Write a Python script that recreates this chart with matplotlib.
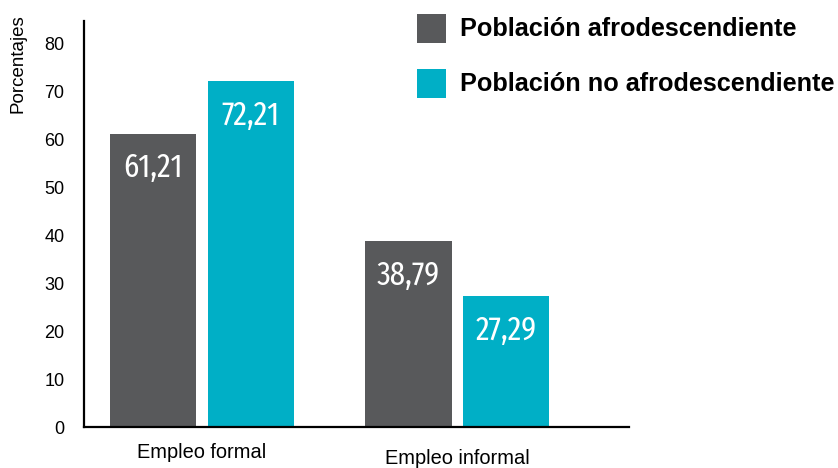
import numpy as np
import matplotlib.pyplot as plt
from matplotlib import font_manager
from matplotlib.patches import Rectangle

categories = ['Empleo formal', 'Empleo informal']
series = ['Población afrodescendiente', 'Población no afrodescendiente']
afro = [61.21, 38.79]
no_afro = [72.21, 27.29]
colors = ['#58595B', '#00AFC6']
yticks = [0, 10, 20, 30, 40, 50, 60, 70, 80]

plt.rcParams['font.family'] = ['Liberation Sans', 'DejaVu Sans']

# narrowest regular face available for the numbers inside the bars
rank = {'ultra-condensed': 0, 'extra-condensed': 1, 'condensed': 2, 'semi-condensed': 3}
best = None
for f in font_manager.fontManager.ttflist:
    if f.style != 'normal' or f.weight not in (400, 'normal', 'regular'):
        continue
    st = f.stretch if isinstance(f.stretch, str) else None
    name = f.name + ' ' + f.fname
    r = rank.get(st, 9)
    if 'ExtraCondensed' in name:
        r = min(r, 1)
    elif 'Narrow' in name or 'Condensed' in name:
        r = min(r, 2)
    if r < 9 and (best is None or r < best[0]):
        best = (r, f.fname)
if best:
    num_font = font_manager.FontProperties(fname=best[1], size=24)
else:
    num_font = font_manager.FontProperties(family='Liberation Sans', size=21)

fig = plt.figure(figsize=(8.38, 4.68), dpi=100)
ax = fig.add_axes([0.1002, 0.0876, 0.6504, 0.8675])

x = np.arange(len(categories))
off = 0.191
w = 0.337
groups = [afro, no_afro]
for i, vals in enumerate(groups):
    b = ax.bar(x + (i * 2 - 1) * off, vals, width=w, color=colors[i], label=series[i])
    for rect, v in zip(b, vals):
        ax.annotate(f'{v:.2f}'.replace('.', ','),
                    (rect.get_x() + rect.get_width() / 2, v),
                    xytext=(0, -13), textcoords='offset points',
                    ha='center', va='top', color='white', fontproperties=num_font)

ax.set_xlim(-0.461, 1.672)
ax.set_ylim(0, 84.8)
ax.set_yticks(yticks)
ax.tick_params(axis='y', length=0, pad=14, labelsize=13)
ax.set_xticks([])
trans = ax.get_xaxis_transform()
# the second category label sits a little lower than the first
for xi, cat, dy in zip(x, categories, [-0.0616, -0.0770]):
    ax.text(xi, dy, cat, transform=trans, ha='center', va='center', fontsize=14.4)

for s in ['top', 'right']:
    ax.spines[s].set_visible(False)
ax.spines['left'].set_linewidth(1.6)
ax.spines['bottom'].set_linewidth(1.6)

fig.text(0.022, 0.863, 'Porcentajes', rotation=90, ha='center', va='center', fontsize=13.5)

# legend drawn by hand in figure pixels
H = 468.0
W = 838.0
for i, (lab, top, base) in enumerate(zip(series, [14, 69], [36, 91])):
    fig.add_artist(Rectangle((417 / W, 1 - (top + 29) / H), 29 / W, 29 / H,
                             transform=fig.transFigure, color=colors[i], lw=0))
    fig.text(460 / W, 1 - base / H, lab, ha='left', va='baseline',
             fontsize=18.2, fontweight='bold')

fig.savefig('out.png', dpi=100)
